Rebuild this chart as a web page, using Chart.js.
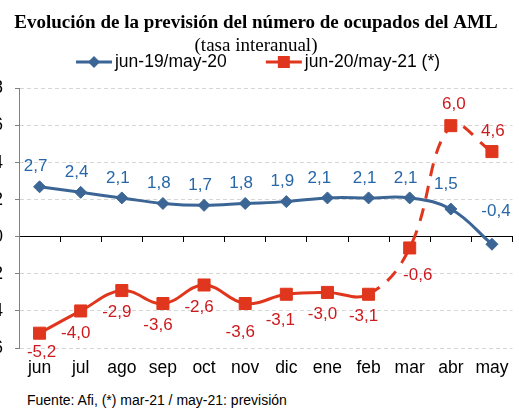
<!DOCTYPE html>
<html>
<head>
<meta charset="utf-8">
<script src="https://cdn.jsdelivr.net/npm/chart.js@4.4.1/dist/chart.umd.min.js"></script>
<style>
  html, body { margin: 0; padding: 0; background: #fff; overflow: hidden; }
  body { width: 519px; height: 408px; position: relative; }
  #wrap { position: absolute; left: -10px; top: 0; width: 532px; height: 388px; }
  #fuente { position: absolute; left: 27px; top: 392px; font: 14px/16px 'Liberation Sans', Arial, sans-serif; color: #000; white-space: nowrap; }
</style>
</head>
<body>
<div id="wrap"><canvas id="ocupadosChart"></canvas></div>
<div id="fuente">Fuente: Afi, (*) mar-21 / may-21: previsión</div>
<script>
// datos (tasa interanual, %)
const months = ['jun', 'jul', 'ago', 'sep', 'oct', 'nov', 'dic', 'ene', 'feb', 'mar', 'abr', 'may'];
const serie1920 = [2.7, 2.4, 2.1, 1.8, 1.7, 1.8, 1.9, 2.1, 2.1, 2.1, 1.5, -0.4];
const serie2021 = [-5.2, -4.0, -2.9, -3.6, -2.6, -3.6, -3.1, -3.0, -3.1, -0.6, 6.0, 4.6];
const seriesNames = ['jun-19/may-20', 'jun-20/may-21 (*)'];
const forecastStart = 8; // from feb on the line is a forecast (dashed)

const BLUE = '#3b6594';
const BLUE_TXT = '#2767a7';
const RED = '#e0361d';
const RED_TXT = '#cc1a1e';
const SANS = "'Liberation Sans', Arial, sans-serif";
const SERIF = "'Liberation Serif', 'Times New Roman', serif";

const fmt = v => v.toFixed(1).replace('.', ',');

// legend with a line + marker, like the Excel one
const lineLegend = {
    id: 'lineLegend',
    afterDraw(chart, args, opts) {
        const c = chart.ctx;
        c.save();
        c.font = opts.font;
        c.textBaseline = 'middle';
        const sets = chart.data.datasets;
        const widths = sets.map(ds => opts.lineLength + opts.textGap + c.measureText(ds.label).width);
        const total = widths.reduce((a, b) => a + b, 0) + opts.itemGap * (sets.length - 1);
        let x = (chart.width - total) / 2 + opts.shift;
        const y = opts.y;
        sets.forEach((ds, i) => {
            c.strokeStyle = ds.borderColor;
            c.lineWidth = 3;
            c.beginPath();
            c.moveTo(x, y);
            c.lineTo(x + opts.lineLength, y);
            c.stroke();
            const cx = x + opts.lineLength / 2;
            const r = opts.marker[i];
            c.fillStyle = ds.borderColor;
            c.beginPath();
            if (ds.pointStyle === 'rectRot') {
                c.moveTo(cx - r, y); c.lineTo(cx, y - r); c.lineTo(cx + r, y); c.lineTo(cx, y + r);
                c.closePath();
            } else {
                c.rect(cx - r, y - r, 2 * r, 2 * r);
            }
            c.fill();
            c.fillStyle = '#000';
            c.fillText(ds.label, x + opts.lineLength + opts.textGap, y);
            x += widths[i] + opts.itemGap;
        });
        c.restore();
    }
};

// value labels next to the points
const valueLabels = {
    id: 'valueLabels',
    afterDatasetsDraw(chart, args, opts) {
        const c = chart.ctx;
        c.save();
        c.font = opts.font;
        c.textAlign = 'center';
        c.textBaseline = 'middle';
        chart.data.datasets.forEach((ds, i) => {
            const place = opts.place[i];
            c.fillStyle = place.color;
            chart.getDatasetMeta(i).data.forEach((pt, j) => {
                const [dx, dy] = place.at[j] || place.base;
                c.fillText(fmt(ds.data[j]), pt.x + dx, pt.y + dy);
            });
        });
        c.restore();
    }
};

const ctx = document.getElementById('ocupadosChart').getContext('2d');
const ocupadosChart = new Chart(ctx, {
    type: 'line',
    data: {
        labels: months,
        datasets: [
            {
                label: seriesNames[0],
                data: serie1920,
                borderColor: BLUE,
                backgroundColor: BLUE,
                pointBackgroundColor: BLUE,
                pointBorderColor: BLUE,
                pointStyle: 'rectRot',
                pointRadius: 6,
                pointBorderWidth: 1,
                borderWidth: 3,
                tension: 0.4,
                fill: false
            },
            {
                label: seriesNames[1],
                data: serie2021,
                borderColor: RED,
                backgroundColor: RED,
                pointBackgroundColor: RED,
                pointBorderColor: RED,
                pointStyle: 'rect',
                pointRadius: 8.5,
                pointBorderWidth: 1,
                borderWidth: 3,
                tension: 0.4,
                fill: false,
                segment: {
                    borderDash: s => s.p0DataIndex >= forecastStart ? [13, 10] : undefined
                }
            }
        ]
    },
    options: {
        responsive: true,
        maintainAspectRatio: false,
        animation: false,
        events: [],
        layout: { padding: 0 },
        plugins: {
            legend: { display: false },
            tooltip: { enabled: false },
            title: {
                display: true,
                text: 'Evolución de la previsión del número de ocupados del AML',
                color: '#000',
                font: { family: SERIF, size: 19, weight: 'bold' },
                padding: { top: 12, bottom: 0 }
            },
            subtitle: {
                display: true,
                text: '(tasa interanual)',
                color: '#000',
                font: { family: SERIF, size: 19, weight: 'normal' },
                padding: { top: 0, bottom: 31 }
            },
            lineLegend: {
                font: '17.5px ' + SANS,
                y: 62,
                lineLength: 36,
                textGap: 3,
                itemGap: 39,
                shift: 2,
                marker: [6, 6]
            },
            valueLabels: {
                font: '17px ' + SANS,
                place: [
                    { color: BLUE_TXT, base: [-4, -20], at: { 7: [-8, -20], 10: [-5, -25], 11: [4, -33] } },
                    { color: RED_TXT, base: [-5, 22], at: { 0: [2, 19], 5: [-5, 29], 6: [-6, 26], 9: [8, 27], 10: [3, -21], 11: [1, -20] } }
                ]
            }
        },
        scales: {
            x: {
                type: 'category',
                position: 'bottom',
                offset: true,
                grid: { display: false, drawTicks: false },
                border: { display: false },
                ticks: {
                    color: '#000',
                    font: { family: SANS, size: 17.5 },
                    padding: 9.5,
                    maxRotation: 0,
                    autoSkip: false
                }
            },
            // the axis line at zero with its tick marks
            xZero: {
                type: 'category',
                position: { y: 0 },
                offset: true,
                grid: { offset: true, drawOnChartArea: false, tickLength: 5, tickColor: '#000', tickWidth: 1 },
                border: { display: true, color: '#000', width: 1 },
                ticks: { display: false }
            },
            y: {
                min: -6,
                max: 8,
                ticks: {
                    stepSize: 2,
                    color: '#000',
                    font: { family: SANS, size: 17.5 },
                    padding: 12
                },
                grid: {
                    color: c => c.tick.value === 0 ? 'rgba(0,0,0,0)' : '#d6d6d6',
                    tickColor: '#808080',
                    tickLength: 4,
                    lineWidth: 1
                },
                border: { color: '#808080', width: 1, dash: [4, 3] },
                afterFit: s => { s.width = 29; }
            }
        }
    },
    plugins: [lineLegend, valueLabels]
});
</script>
</body>
</html>
